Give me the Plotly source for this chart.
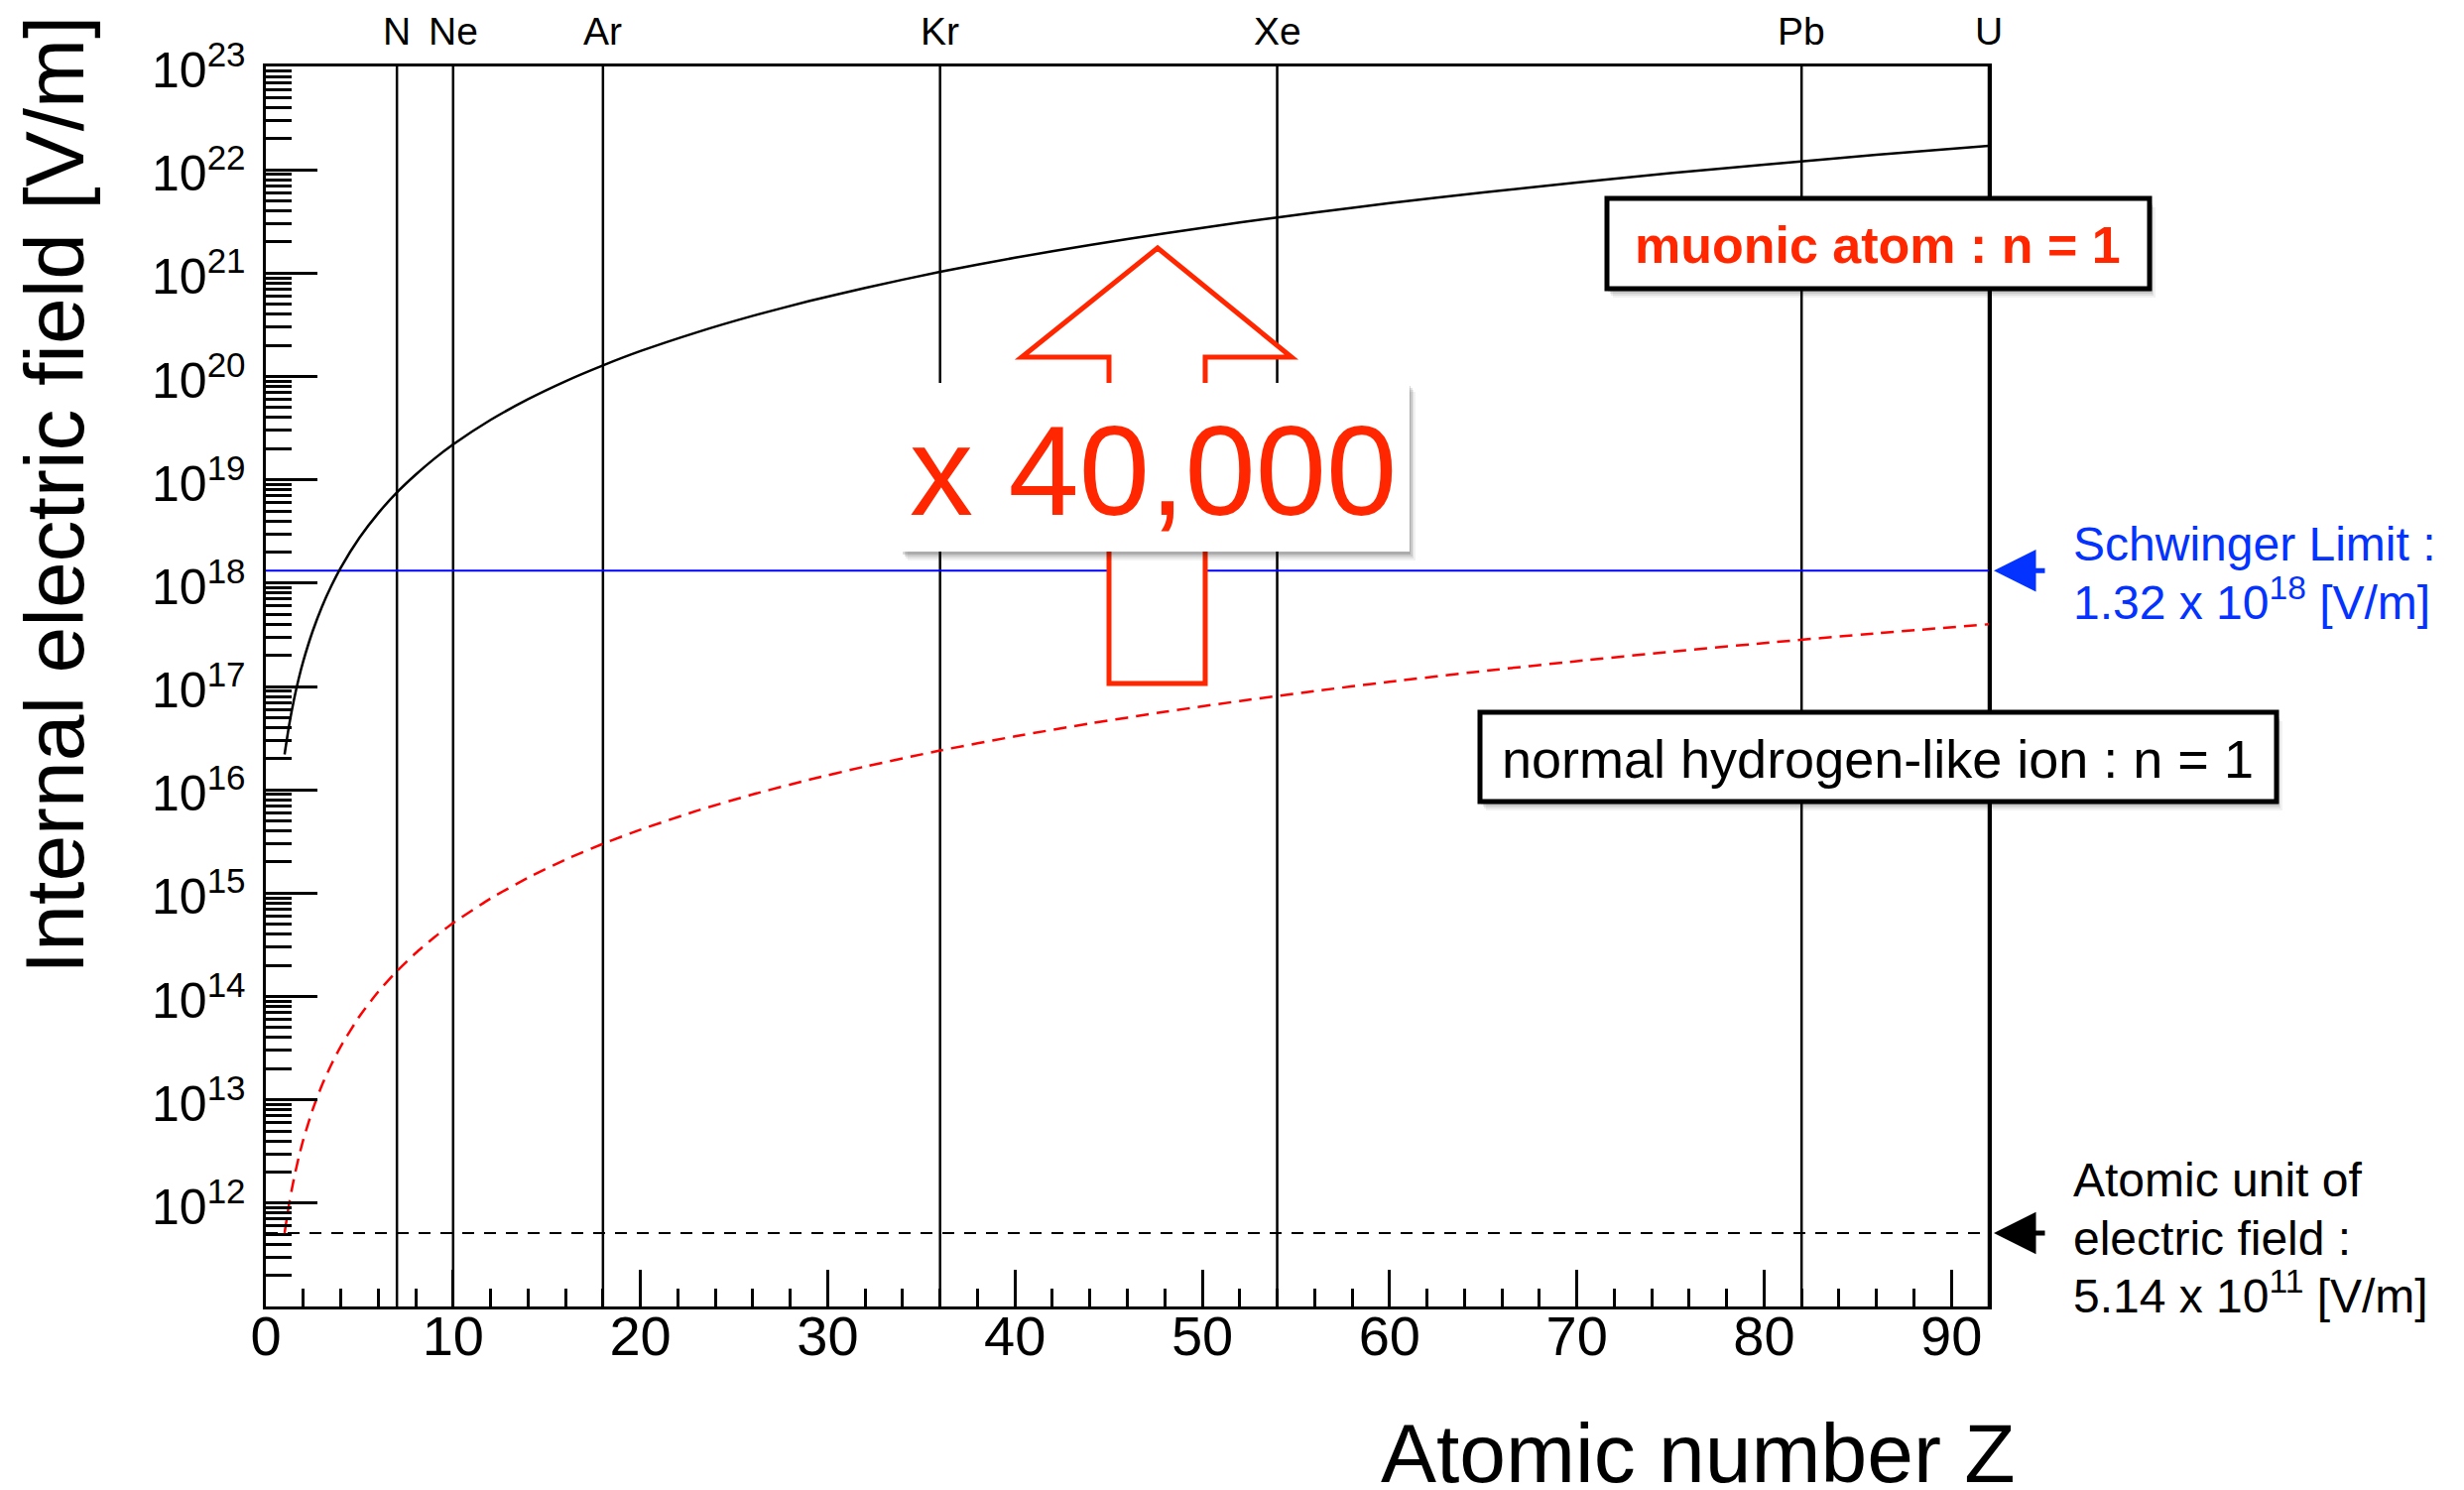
import plotly.graph_objects as go
import math

# Atomic number samples and the n = 1 internal field read for each (V/m)
Z = [1, 1.25, 1.5, 1.75, 2, 2.5, 3, 3.5, 4, 5, 6, 7, 8, 9, 10, 12, 14, 16, 18, 20,
     23, 26, 29, 32, 36, 40, 44, 48, 52, 56, 60, 65, 70, 75, 80, 86, 92]
E_hydrogen_like = [5.14e11, 1.00e12, 1.73e12, 2.75e12, 4.11e12, 8.03e12, 1.39e13,
                   2.20e13, 3.29e13, 6.43e13, 1.11e14, 1.76e14, 2.63e14, 3.75e14,
                   5.14e14, 8.88e14, 1.41e15, 2.11e15, 3.00e15, 4.11e15, 6.25e15,
                   9.03e15, 1.25e16, 1.68e16, 2.40e16, 3.29e16, 4.38e16, 5.68e16,
                   7.23e16, 9.03e16, 1.11e17, 1.41e17, 1.76e17, 2.17e17, 2.63e17,
                   3.27e17, 4.00e17]
E_muonic = [2.20e16, 4.29e16, 7.42e16, 1.18e17, 1.76e17, 3.43e17, 5.93e17, 9.42e17,
            1.41e18, 2.75e18, 4.75e18, 7.54e18, 1.12e19, 1.60e19, 2.20e19, 3.80e19,
            6.03e19, 9.00e19, 1.28e20, 1.76e20, 2.67e20, 3.86e20, 5.36e20, 7.20e20,
            1.03e21, 1.41e21, 1.87e21, 2.43e21, 3.09e21, 3.86e21, 4.75e21, 6.03e21,
            7.54e21, 9.27e21, 1.12e22, 1.40e22, 1.71e22]

# Reference elements marked with vertical lines
element_names = ["N", "Ne", "Ar", "Kr", "Xe", "Pb", "U"]
element_Z = [7, 10, 18, 36, 54, 82, 92]

# Reference field levels (V/m)
schwinger_limit = 1.32e18
atomic_unit_field = 5.14e11

# Axis ticks
x_ticks = [0, 10, 20, 30, 40, 50, 60, 70, 80, 90]
y_exponents = list(range(12, 24))

W, H = 2484, 1502
L, R, T, B = 268, 2005, 67, 1317
RED_TXT = "#ff2600"
BLUE_TXT = "#0433ff"
FONT = "Liberation Sans, Arial, Helvetica, sans-serif"


def px(xp):
    return (xp - L) / (R - L)


def py(yp):
    return (B - yp) / (B - T)


fig = go.Figure()

fig.add_trace(go.Scatter(x=Z, y=E_muonic, mode="lines",
                         line=dict(color="black", width=2.5, shape="spline",
                                   smoothing=0.6),
                         hoverinfo="skip"))
fig.add_trace(go.Scatter(x=Z, y=E_hydrogen_like, mode="lines",
                         line=dict(color="#ff0000", width=2.5, dash="13px,8px",
                                   shape="spline", smoothing=0.6),
                         hoverinfo="skip"))

shapes = []
# element lines
for z in element_Z:
    shapes.append(dict(type="line", xref="x", yref="paper", x0=z, x1=z, y0=0, y1=1,
                       line=dict(color="black", width=2.5), layer="below"))
# Schwinger limit and atomic unit of field
shapes.append(dict(type="line", xref="paper", yref="y", x0=0, x1=1,
                   y0=schwinger_limit, y1=schwinger_limit,
                   line=dict(color="#0000ff", width=2), layer="below"))
shapes.append(dict(type="line", xref="paper", yref="y", x0=0, x1=1,
                   y0=atomic_unit_field, y1=atomic_unit_field,
                   line=dict(color="black", width=2, dash="12px,10px"), layer="below"))

# hollow up-arrow
arrow_pts = [(1167, 250), (1302, 360), (1215, 360), (1215, 689), (1118, 689),
             (1118, 360), (1030, 360)]
path = "M " + " L ".join(f"{px(a):.5f},{py(b):.5f}" for a, b in arrow_pts) + " Z"
shapes.append(dict(type="path", xref="paper", yref="paper", path=path,
                   fillcolor="white", line=dict(color=RED_TXT, width=5), layer="above"))


def boxed(x0, y0, x1, y1, border):
    out = []
    for dx, dy, op in [(6, 9, 0.05), (4, 7, 0.07), (3, 5, 0.1), (1, 3, 0.14)]:
        out.append(dict(type="rect", xref="paper", yref="paper",
                        x0=px(x0 + dx), x1=px(x1 + dx), y0=py(y1 + dy), y1=py(y0 + dy),
                        fillcolor=f"rgba(0,0,0,{op})", line=dict(width=0), layer="above"))
    out.append(dict(type="rect", xref="paper", yref="paper",
                    x0=px(x0), x1=px(x1), y0=py(y1), y1=py(y0), fillcolor="white",
                    line=dict(color="black", width=border) if border else dict(width=0),
                    layer="above"))
    return out


shapes += boxed(909, 386, 1421, 556, 0)
shapes += boxed(1620, 200, 2167, 291, 5)
shapes += boxed(1492, 718, 2295, 808, 5)

annotations = []
for name, z in zip(element_names, element_Z):
    annotations.append(dict(text=name, xref="x", yref="paper", x=z, y=py(31),
                            xanchor="center", yanchor="middle", showarrow=False,
                            font=dict(size=39, color="black", family=FONT)))

# y tick labels, right-aligned next to the axis
for e in y_exponents:
    annotations.append(dict(text=f"10<sup>{e}</sup>", xref="paper", yref="y",
                            x=px(250), y=e, xanchor="right", yanchor="middle",
                            showarrow=False,
                            font=dict(size=50, color="black", family=FONT)))


def text_line(txt, xp, yp, size, color):
    return dict(text=txt, xref="paper", yref="paper", x=px(xp), y=py(yp),
                xanchor="left", yanchor="middle", align="left", showarrow=False,
                font=dict(size=size, color=color, family=FONT))


annotations += [
    dict(text="x 40,000", xref="paper", yref="paper", x=px(1162), y=py(474),
         xanchor="center", yanchor="middle", showarrow=False,
         font=dict(size=128, color=RED_TXT, family=FONT)),
    dict(text="<b>muonic atom : n = 1</b>", xref="paper", yref="paper",
         x=px(1893), y=py(247), xanchor="center", yanchor="middle", showarrow=False,
         font=dict(size=52, color=RED_TXT, family=FONT)),
    dict(text="normal hydrogen-like ion : n = 1", xref="paper", yref="paper",
         x=px(1893), y=py(765), xanchor="center", yanchor="middle", showarrow=False,
         font=dict(size=54, color="black", family=FONT)),
    text_line("Schwinger Limit :", 2088, 548, 48, BLUE_TXT),
    text_line("1.32 x 10<sup>18</sup> [V/m]", 2088, 604, 48, BLUE_TXT),
    text_line("Atomic unit of", 2088, 1189, 48, "black"),
    text_line("electric field :", 2088, 1248, 48, "black"),
    text_line("5.14 x 10<sup>11</sup> [V/m]", 2088, 1303, 48, "black"),
    # arrows pointing at the reference levels
    dict(text="", xref="paper", yref="y", x=px(2010), y=math.log10(schwinger_limit),
         ax=53, ay=0, showarrow=True, arrowhead=2, arrowsize=1.7, arrowwidth=5,
         arrowcolor=BLUE_TXT),
    dict(text="", xref="paper", yref="y", x=px(2010), y=math.log10(atomic_unit_field),
         ax=53, ay=0, showarrow=True, arrowhead=2, arrowsize=1.7, arrowwidth=5,
         arrowcolor="black"),
    # axis titles
    dict(text="Internal electric field [V/m]", xref="paper", yref="paper",
         x=px(55), y=py(499), xanchor="center", yanchor="middle", textangle=-90,
         showarrow=False, font=dict(size=84, color="black", family=FONT)),
    dict(text="Atomic number Z", xref="paper", yref="paper", x=px(1712), y=py(1465),
         xanchor="center", yanchor="middle", showarrow=False,
         font=dict(size=84, color="black", family=FONT)),
]

fig.update_layout(
    width=W, height=H,
    margin=dict(l=L, r=W - R, t=T, b=H - B),
    paper_bgcolor="white", plot_bgcolor="white",
    showlegend=False,
    shapes=shapes, annotations=annotations,
    font=dict(family=FONT, color="black"),
    xaxis=dict(range=[0, 92], tickmode="array", tickvals=x_ticks,
               ticks="inside", ticklen=37, tickwidth=2.5, tickcolor="black",
               minor=dict(dtick=2, ticks="inside", ticklen=18, tickwidth=2.5,
                          tickcolor="black"),
               showline=True, linecolor="black", linewidth=3, mirror=True,
               showgrid=False, zeroline=False, ticklabelstandoff=-21,
               tickfont=dict(size=56, family=FONT, color="black")),
    yaxis=dict(type="log", range=[11, 23], tickmode="array",
               tickvals=[10.0 ** e for e in y_exponents],
               showticklabels=False,
               ticks="inside", ticklen=52, tickwidth=2.5, tickcolor="black",
               minor=dict(dtick="D1", ticks="inside", ticklen=26, tickwidth=2.5,
                          tickcolor="black"),
               showline=True, linecolor="black", linewidth=3, mirror=True,
               showgrid=False, zeroline=False),
)

fig.write_html("out.html")
